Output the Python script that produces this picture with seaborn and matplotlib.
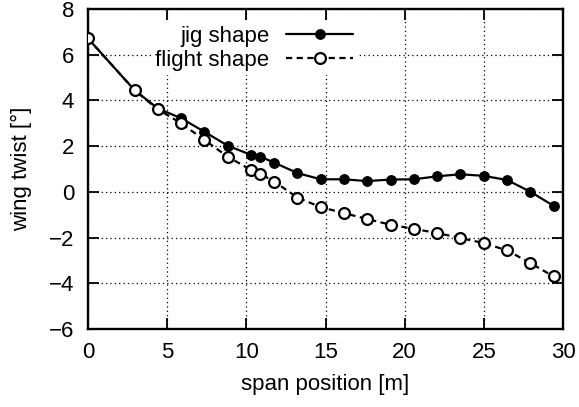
import matplotlib
matplotlib.use("Agg")
import matplotlib.pyplot as plt
import seaborn as sns
import pandas as pd

span = [0.0, 2.94, 4.41, 5.88, 7.35, 8.82, 10.29, 10.88, 11.76, 13.23, 14.70,
        16.17, 17.64, 19.11, 20.58, 22.05, 23.52, 24.99, 26.46, 27.93, 29.40]
jig = [6.71, 4.45, 3.65, 3.22, 2.63, 2.02, 1.62, 1.54, 1.28, 0.82, 0.55,
       0.55, 0.47, 0.54, 0.55, 0.68, 0.77, 0.70, 0.52, 0.01, -0.61]
flight = [6.71, 4.45, 3.61, 3.00, 2.27, 1.54, 0.96, 0.79, 0.45, -0.25, -0.67,
          -0.93, -1.19, -1.44, -1.62, -1.80, -2.02, -2.24, -2.56, -3.11, -3.70]
labels = ["jig shape", "flight shape"]
x_ticks = [0, 5, 10, 15, 20, 25, 30]
y_ticks = [-6, -4, -2, 0, 2, 4, 6, 8]

sns.set_style("ticks")
plt.rcParams["font.family"] = ["Liberation Sans", "DejaVu Sans"]
plt.rcParams["axes.unicode_minus"] = True
plt.rcParams["text.color"] = "black"
plt.rcParams["axes.labelcolor"] = "black"
plt.rcParams["xtick.color"] = "black"
plt.rcParams["ytick.color"] = "black"

FS = 16
fig = plt.figure(figsize=(5.79, 4.07), dpi=100)
ax = fig.add_axes([88 / 579, 1 - 329 / 407, (563 - 88) / 579, (329 - 9) / 407])

df_j = pd.DataFrame({"span": span, "twist": jig})
df_f = pd.DataFrame({"span": span, "twist": flight})

sns.lineplot(data=df_j, x="span", y="twist", ax=ax, color="black", lw=1.6,
             marker="o", markersize=7, markerfacecolor="black",
             markeredgecolor="black", label=labels[0], zorder=3)
sns.lineplot(data=df_f, x="span", y="twist", ax=ax, color="black", lw=1.6,
             linestyle=(0, (2.8, 2.0)), marker="o", markersize=7.8,
             markerfacecolor="white", markeredgecolor="black", markeredgewidth=1.6,
             label=labels[1], zorder=4)

ax.set_xlim(0, 30)
ax.set_ylim(-6, 8)
ax.set_xticks(x_ticks)
ax.set_yticks(y_ticks)
ax.tick_params(direction="in", length=8, width=1.3, top=True, right=True,
               labelsize=FS, colors="black")
ax.tick_params(axis="x", pad=9)
ax.tick_params(axis="y", pad=10)
for s in ax.spines.values():
    s.set_linewidth(1.7)
    s.set_color("black")
ax.grid(True, color="black", linestyle=(0, (1, 2.5)), linewidth=0.9)
ax.set_xlabel("span position [m]", fontsize=FS, labelpad=8, color="black")
ax.set_ylabel("wing twist [°]", fontsize=FS, labelpad=12, color="black")

h, l = ax.get_legend_handles_labels()
leg = ax.legend(h, l, loc="upper right", bbox_to_anchor=(0.567, 0.962),
                markerfirst=False, frameon=True, fontsize=FS, handlelength=3.0,
                handletextpad=0.75, labelspacing=0.15, borderpad=0.2,
                borderaxespad=0.0, fancybox=False)
leg.get_frame().set_edgecolor("none")
leg.get_frame().set_facecolor("white")
leg.get_frame().set_alpha(1.0)
leg.set_zorder(2.8)
for t in leg.get_texts():
    t.set_color("black")

fig.savefig("out.png", dpi=100)
